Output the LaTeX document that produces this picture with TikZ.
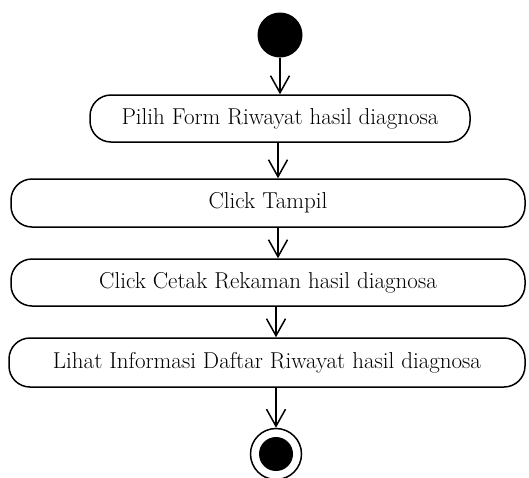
\documentclass[tikz,border=0pt]{standalone}
\usepackage{fontspec}
\setmainfont{Latin Modern Roman}
\usetikzlibrary{arrows.meta}
\begin{document}
\begin{tikzpicture}[x=1pt,y=-1pt,
  act/.style={draw, line width=1.5pt, rounded corners=21pt, inner sep=0pt,
    font=\fontsize{23}{26}\selectfont},
  flow/.style={line width=1.5pt, -{Straight Barb[length=17pt,width=19pt,line width=1.5pt]}},
]
\useasboundingbox (0,0) rectangle (529,477);
% initial state
\node[circle, fill=black, minimum size=45pt, inner sep=0pt] (start) at (280,35) {};
% activities
\node[act, minimum width=380pt, minimum height=47pt] (b1) at (280,118.5) {Pilih Form Riwayat hasil diagnosa};
\node[act, minimum width=514pt, minimum height=48pt] (b2) at (268,203) {Click Tampil};
\node[act, minimum width=514pt, minimum height=47pt] (b3) at (268,282.5) {Click Cetak Rekaman hasil diagnosa};
\node[act, minimum width=516pt, minimum height=49pt] (b4) at (267,362.5) {Lihat Informasi Daftar Riwayat hasil diagnosa};
% final state
\node[circle, draw, line width=1.5pt, minimum size=51pt, inner sep=0pt] (end) at (276,454) {};
\node[circle, fill=black, minimum size=34pt, inner sep=0pt] (endin) at (end) {};
% transitions
\draw[flow] (start.south) -- (start.south |- b1.north);
\draw[flow] ([xshift=-2pt]b1.south) -- ([xshift=-2pt]b1.south |- b2.north);
\draw[flow] ([xshift=10pt]b2.south) -- ([xshift=10pt]b2.south |- b3.north);
\draw[flow] ([xshift=8pt]b3.south) -- ([xshift=8pt]b3.south |- b4.north);
\draw[flow] (end.north |- b4.south) -- (end.north);
\end{tikzpicture}
\end{document}
